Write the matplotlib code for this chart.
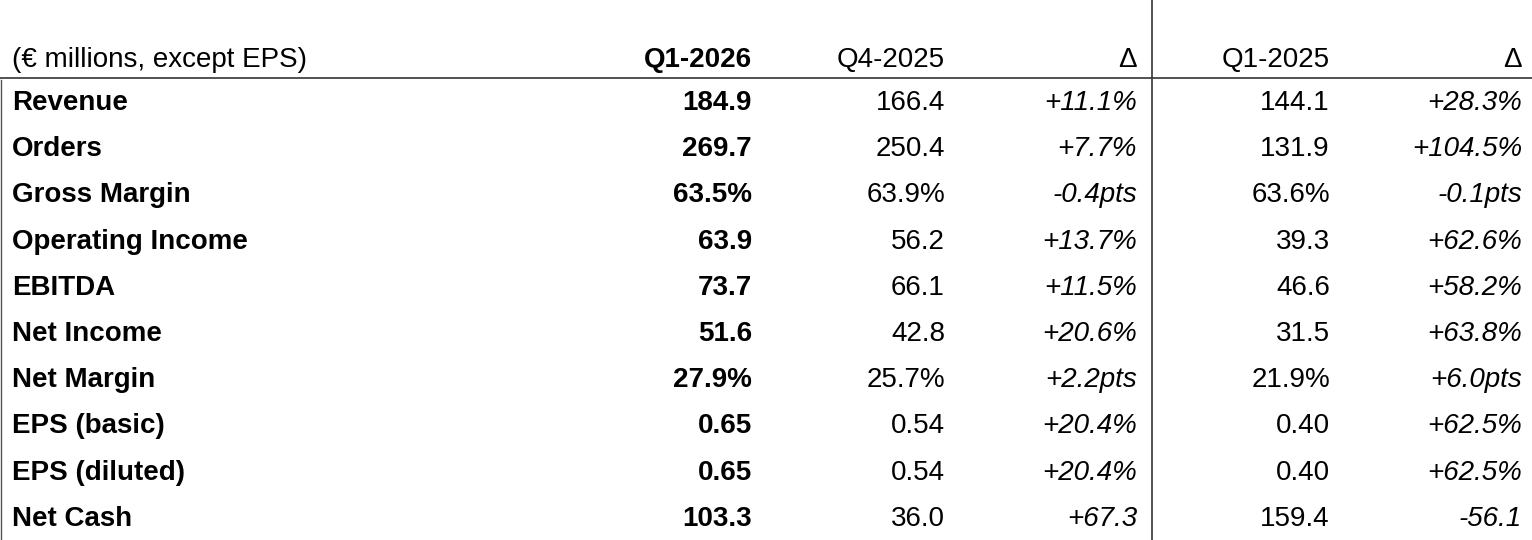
import matplotlib
matplotlib.use("Agg")
import matplotlib.pyplot as plt

header = ["(€ millions, except EPS)", "Q1-2026", "Q4-2025", "Δ", "Q1-2025", "Δ"]
metrics = ["Revenue", "Orders", "Gross Margin", "Operating Income", "EBITDA",
           "Net Income", "Net Margin", "EPS (basic)", "EPS (diluted)", "Net Cash"]
q1_2026 = ["184.9", "269.7", "63.5%", "63.9", "73.7", "51.6", "27.9%", "0.65", "0.65", "103.3"]
q4_2025 = ["166.4", "250.4", "63.9%", "56.2", "66.1", "42.8", "25.7%", "0.54", "0.54", "36.0"]
delta_q = ["+11.1%", "+7.7%", "-0.4pts", "+13.7%", "+11.5%", "+20.6%", "+2.2pts", "+20.4%", "+20.4%", "+67.3"]
q1_2025 = ["144.1", "131.9", "63.6%", "39.3", "46.6", "31.5", "21.9%", "0.40", "0.40", "159.4"]
delta_y = ["+28.3%", "+104.5%", "-0.1pts", "+62.6%", "+58.2%", "+63.8%", "+6.0pts", "+62.5%", "+62.5%", "-56.1"]

W, H = 1532, 540
fig = plt.figure(figsize=(W/100, H/100), dpi=100)
ax = fig.add_axes([0, 0, 1, 1])
ax.set_xlim(0, W); ax.set_ylim(H, 0); ax.axis("off")
plt.rcParams['font.family'] = ['Liberation Sans', 'DejaVu Sans']
fs = 20

rx = [752, 945, 1137, 1330, 1522]
hy = 60
ax.text(12, hy, header[0], fontsize=fs, ha="left", va="center")
for i, h in enumerate(header[1:]):
    ax.text(rx[i], hy, h, fontsize=fs, ha="right", va="center",
            fontweight="bold" if i == 0 else "normal")

cols = [q1_2026, q4_2025, delta_q, q1_2025, delta_y]
for r, m in enumerate(metrics):
    y = 103 + r * 46.2
    ax.text(12, y, m, fontsize=fs, ha="left", va="center", fontweight="bold")
    for c, col in enumerate(cols):
        ax.text(rx[c], y, col[r], fontsize=fs, ha="right", va="center",
                fontweight="bold" if c == 0 else "normal",
                style="italic" if c in (2, 4) else "normal")

ax.plot([0, W], [78, 78], color="#333333", lw=1.2)
ax.plot([1152, 1152], [0, H], color="#333333", lw=1.2)
ax.plot([1, 1], [80, H], color="#555555", lw=1.0)
fig.savefig("out.png", dpi=100)
